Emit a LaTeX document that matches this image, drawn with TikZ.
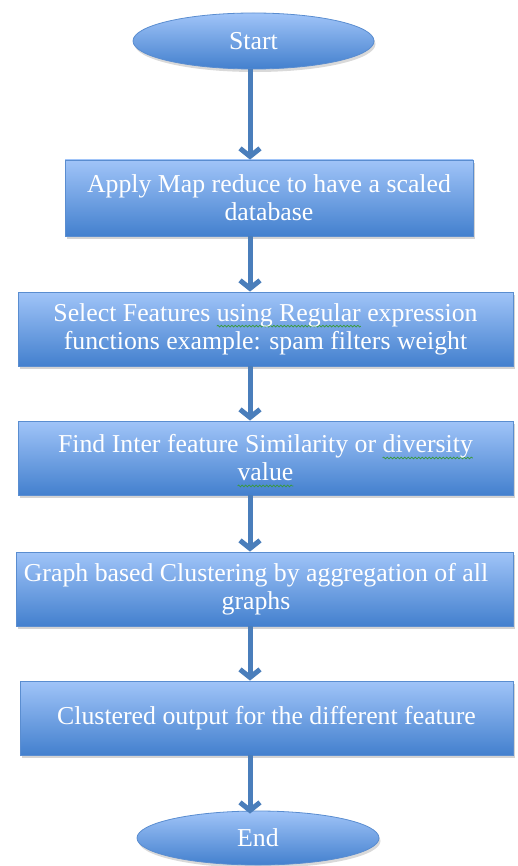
\documentclass[tikz,border=0pt]{standalone}
\usepackage{fontspec}
\setmainfont{Liberation Serif}
\usetikzlibrary{arrows.meta,shadows,shapes.geometric,decorations.pathmorphing}
\definecolor{topblue}{HTML}{A0C4F8}
\definecolor{botblue}{HTML}{4380CE}
\definecolor{edgeblue}{HTML}{5A8DD0}
\definecolor{arrowblue}{HTML}{4A7EBB}
\definecolor{squiggreen}{HTML}{3A9A3A}
\newlength\spellwd
\newcommand\spellmark[1]{\settowidth\spellwd{#1}\rlap{\tikz[overlay,baseline=0pt,x=1pt,y=1pt]\draw[squiggreen,line width=0.7pt,fill=none,decorate,decoration={snake,amplitude=0.9pt,segment length=3.5pt}] (0pt,-5pt) -- (\spellwd,-5pt);}#1}
\begin{document}
\begin{tikzpicture}[x=1pt,y=-1pt,
  procbox/.style={rectangle, draw=edgeblue, line width=0.8pt, top color=topblue, bottom color=botblue,
    text=white, font=\fontsize{25.8}{28}\selectfont, align=center, inner sep=0pt,
    drop shadow={shadow xshift=1.5pt, shadow yshift=-3pt, opacity=0.35}},
  termnode/.style={ellipse, draw=edgeblue, line width=0.8pt, top color=topblue, bottom color=botblue,
    text=white, font=\fontsize{25.8}{28}\selectfont, inner sep=0pt,
    drop shadow={shadow xshift=1.5pt, shadow yshift=-3pt, opacity=0.3}},
  boxtext/.style={text=white, font=\fontsize{25.8}{28}\selectfont, align=center, inner sep=0pt},
  flow/.style={draw=arrowblue, line width=5pt, -{Straight Barb[length=8pt,width=20pt]}}
]
\useasboundingbox (0,0) rectangle (517,866);
\coordinate (ax) at (250,0);

\node[termnode, minimum width=241pt, minimum height=56pt] (start) at (253.5,41) {Start};
\node[procbox, minimum width=408pt, minimum height=76pt] (b1) at (269,198)
  {Apply Map reduce to have a scaled\\database};
\node[procbox, minimum width=495pt, minimum height=74pt] (b2) at (265.5,329)
  {Select Features \spellmark{using Regular} expression\\functions example: spam filters weight};
\node[procbox, minimum width=495pt, minimum height=74pt] (b3) at (265.5,458)
  {Find Inter feature Similarity or \spellmark{diversity}\\\spellmark{value}};
\node[procbox, minimum width=497pt, minimum height=74pt] (b4) at (264.5,589) {};
\node[boxtext] (t4) at (256,589) {Graph based Clustering by aggregation of all\\graphs};
\node[procbox, minimum width=493pt, minimum height=74pt] (b5) at (266.5,718)
  {Clustered output for the different feature};
\node[termnode, minimum width=242pt, minimum height=54pt] (end) at (258,838) {End};

\draw[flow] (start.south -| ax) -- (b1.north -| ax);
\draw[flow] (b1.south -| ax) -- (b2.north -| ax);
\draw[flow] (b2.south -| ax) -- (b3.north -| ax);
\draw[flow] (b3.south -| ax) -- (b4.north -| ax);
\draw[flow] (b4.south -| ax) -- (b5.north -| ax);
\draw[flow] (b5.south -| ax) -- ([yshift=-3pt]end.north -| ax);
\end{tikzpicture}
\end{document}
